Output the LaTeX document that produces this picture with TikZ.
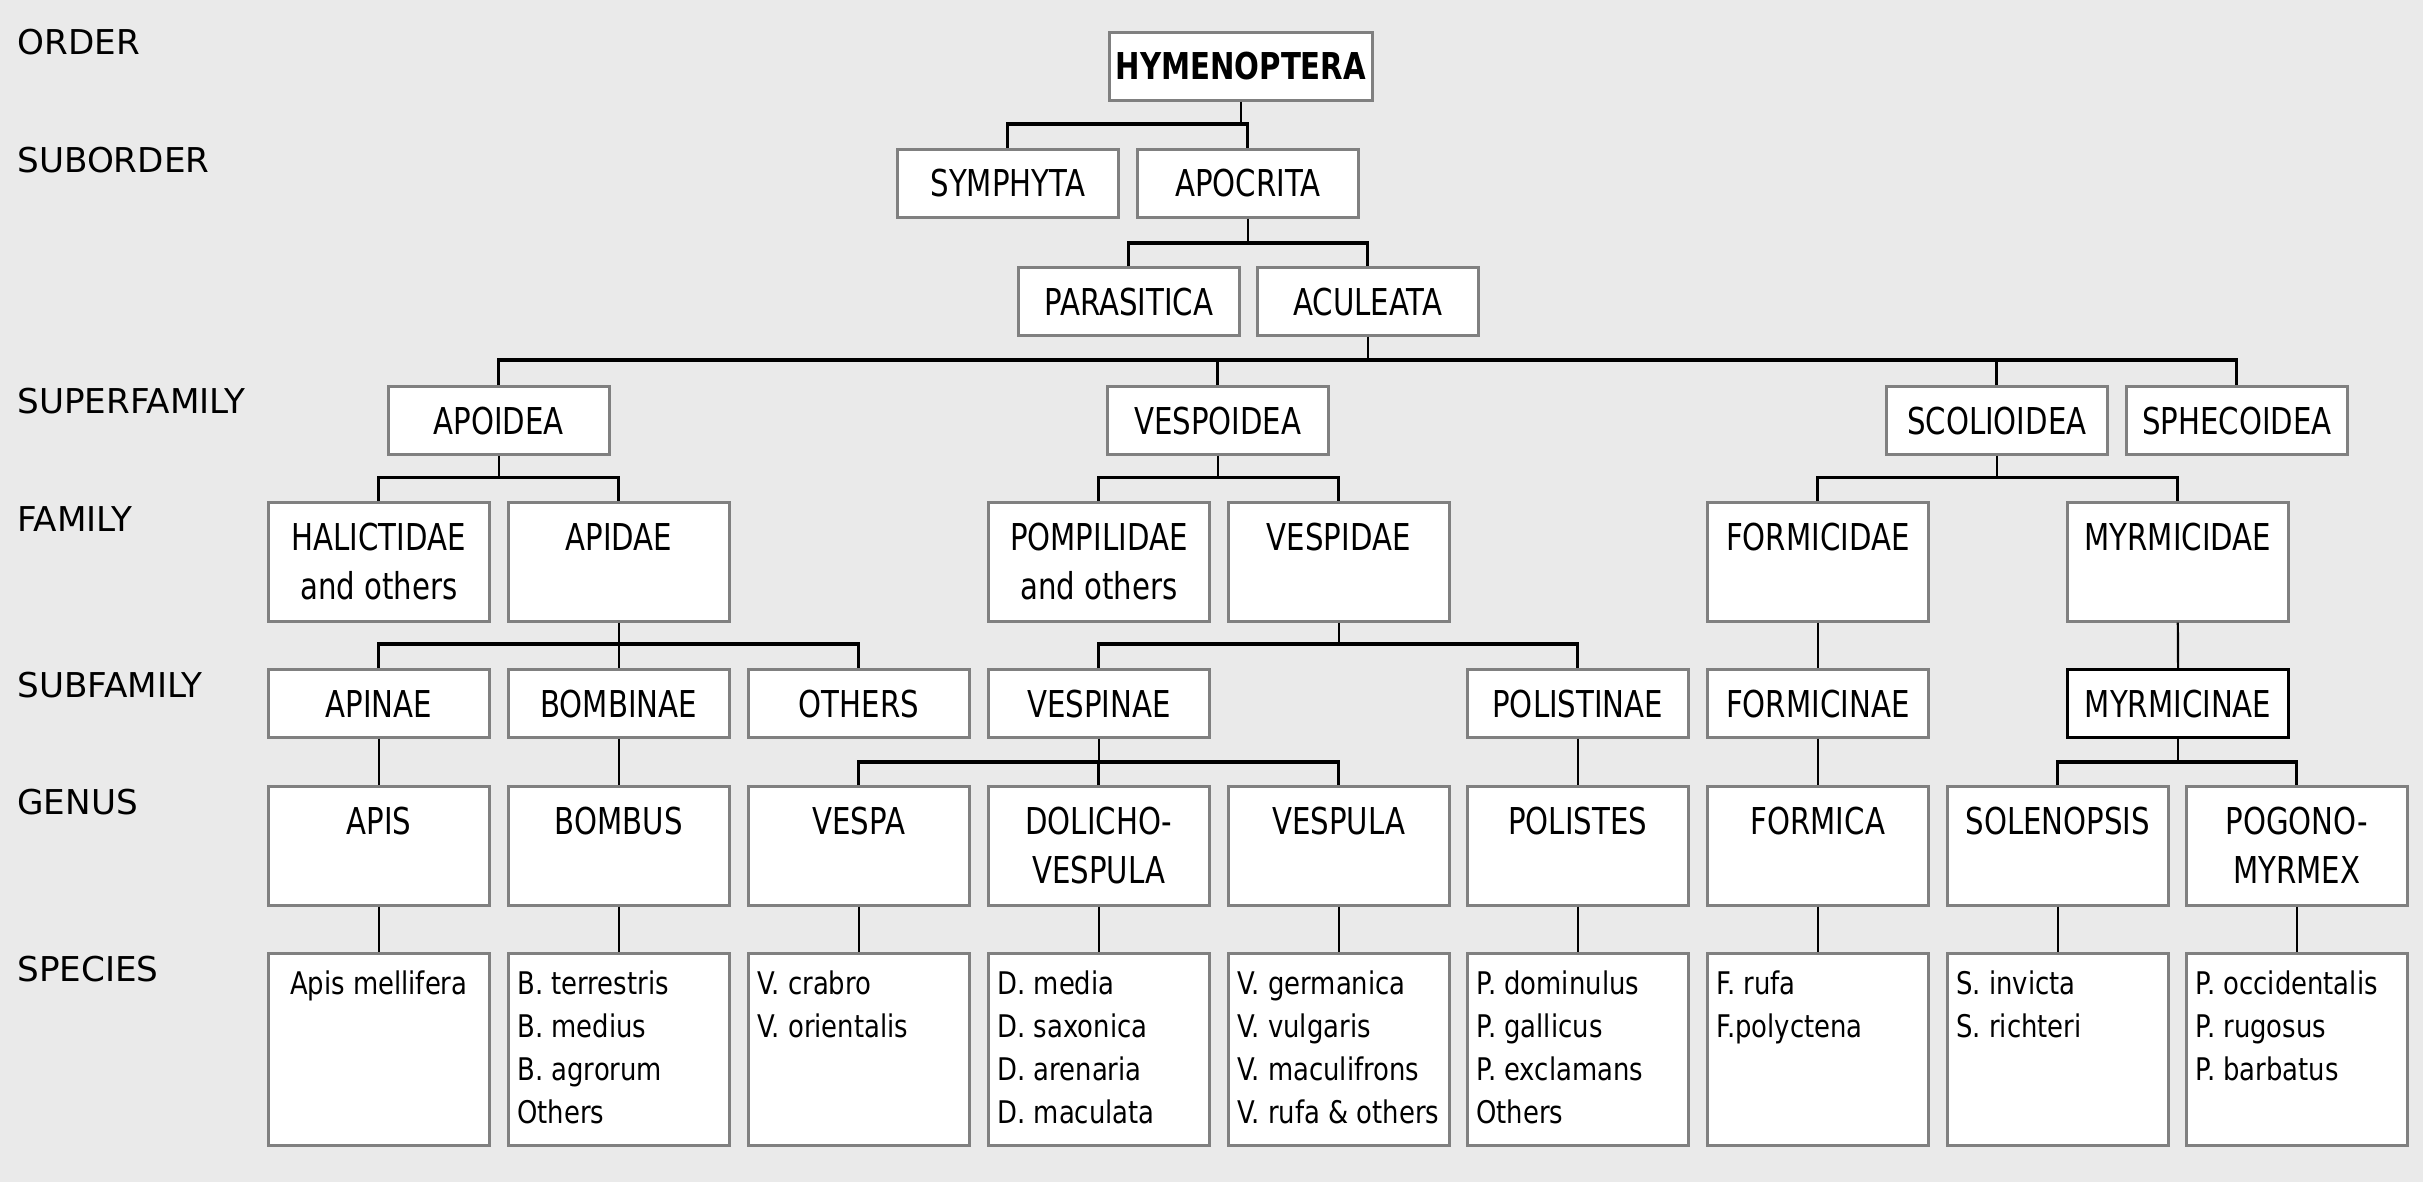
\documentclass[tikz,border=0pt]{standalone}
\usepackage{fontspec}
\setmainfont{DejaVu Sans}
\newfontfamily\condfont[FakeStretch=0.79]{DejaVu Sans}
\newfontfamily\spfont[FakeStretch=0.83]{DejaVu Sans}
\definecolor{bgc}{HTML}{EAEAEA}
\definecolor{bordergray}{HTML}{808080}
\begin{document}
\begin{tikzpicture}[x=0.5pt,y=-0.5pt,
  box/.style={draw=bordergray, line width=1.3pt, fill=white, anchor=north west, inner sep=0pt, minimum width=110.5pt},
  hA/.style={minimum height=34pt},
  hB/.style={minimum height=59.5pt},
  hC/.style={minimum height=96pt},
  txt/.style={font=\condfont\fontsize{18.5}{22}\selectfont, inner sep=0pt, anchor=base},
  sp/.style={font=\spfont\fontsize{15.6}{19}\selectfont, inner sep=0pt, anchor=base west},
  lvl/.style={font=\fontsize{17.1}{20}\selectfont, inner sep=0pt, anchor=base west},
  stem/.style={line width=1.1pt},
  bus/.style={line width=1.6pt}]
\fill[bgc] (0,0) rectangle (2423,1182);
\useasboundingbox (0,0) rectangle (2423,1182);

% level labels
\node[lvl] (l1) at (17,55) {ORDER};
\node[lvl] (l2) at (17,173) {SUBORDER};
\node[lvl] (l3) at (17,413) {SUPERFAMILY};
\node[lvl] (l4) at (17,531) {FAMILY};
\node[lvl] (l5) at (17,697) {SUBFAMILY};
\node[lvl] (l6) at (17,814) {GENUS};
\node[lvl] (l7) at (17,981) {SPECIES};

% bus levels
\coordinate (busA) at (0,124);
\coordinate (busB) at (0,243);
\coordinate (busC) at (0,360);
\coordinate (busD) at (0,477.5);
\coordinate (busE) at (0,644);
\coordinate (busF) at (0,762);

% boxes
\node[box,hA,minimum width=131.5pt] (hym) at (1108,31) {};
\node[box,hA] (sym) at (896,148) {};
\node[box,hA] (apo) at (1136,148) {};
\node[box,hA] (par) at (1017,266) {};
\node[box,hA] (acu) at (1256,266) {};
\node[box,hA] (apoi) at (387,385) {};
\node[box,hA] (vesp) at (1106,385) {};
\node[box,hA] (scol) at (1885,385) {};
\node[box,hA] (sphe) at (2125,385) {};
% family
\node[box,hB] (hal) at (267,501) {};
\node[box,hB] (apid) at (507,501) {};
\node[box,hB] (pomp) at (987,501) {};
\node[box,hB] (vespid) at (1227,501) {};
\node[box,hB] (formi) at (1706,501) {};
\node[box,hB] (myrm) at (2066,501) {};
% subfamily
\node[box,hA] (apin) at (267,668) {};
\node[box,hA] (bomb) at (507,668) {};
\node[box,hA] (oth) at (747,668) {};
\node[box,hA] (vespin) at (987,668) {};
\node[box,hA] (polist) at (1466,668) {};
\node[box,hA] (formin) at (1706,668) {};
\node[box,hA,draw=black,line width=1.6pt] (myrmin) at (2066,668) {};
% genus
\node[box,hB] (g1) at (267,785) {};
\node[box,hB] (g2) at (507,785) {};
\node[box,hB] (g3) at (747,785) {};
\node[box,hB] (g4) at (987,785) {};
\node[box,hB] (g5) at (1227,785) {};
\node[box,hB] (g6) at (1466,785) {};
\node[box,hB] (g7) at (1706,785) {};
\node[box,hB] (g8) at (1946,785) {};
\node[box,hB] (g9) at (2185,785) {};
% species
\node[box,hC] (s1) at (267,952) {};
\node[box,hC] (s2) at (507,952) {};
\node[box,hC] (s3) at (747,952) {};
\node[box,hC] (s4) at (987,952) {};
\node[box,hC] (s5) at (1227,952) {};
\node[box,hC] (s6) at (1466,952) {};
\node[box,hC] (s7) at (1706,952) {};
\node[box,hC] (s8) at (1946,952) {};
\node[box,hC] (s9) at (2185,952) {};

% box texts
\node[txt,font=\condfont\bfseries\fontsize{18.5}{22}\selectfont] (hym-t) at ([yshift=-24.5pt]hym.north) {HYMENOPTERA};
\node[txt] (sym-t) at ([yshift=-24.5pt]sym.north) {SYMPHYTA};
\node[txt] (apo-t) at ([yshift=-24.5pt]apo.north) {APOCRITA};
\node[txt] (par-t) at ([yshift=-24.5pt]par.north) {PARASITICA};
\node[txt] (acu-t) at ([yshift=-24.5pt]acu.north) {ACULEATA};
\node[txt] (apoi-t) at ([yshift=-24.5pt]apoi.north) {APOIDEA};
\node[txt] (vesp-t) at ([yshift=-24.5pt]vesp.north) {VESPOIDEA};
\node[txt] (scol-t) at ([yshift=-24.5pt]scol.north) {SCOLIOIDEA};
\node[txt] (sphe-t) at ([yshift=-24.5pt]sphe.north) {SPHECOIDEA};
\node[txt] (hal-t) at ([yshift=-24.5pt]hal.north) {HALICTIDAE};
\node[txt] (hal-t2) at ([yshift=-49pt]hal.north) {and others};
\node[txt] (apid-t) at ([yshift=-24.5pt]apid.north) {APIDAE};
\node[txt] (pomp-t) at ([yshift=-24.5pt]pomp.north) {POMPILIDAE};
\node[txt] (pomp-t2) at ([yshift=-49pt]pomp.north) {and others};
\node[txt] (vespid-t) at ([yshift=-24.5pt]vespid.north) {VESPIDAE};
\node[txt] (formi-t) at ([yshift=-24.5pt]formi.north) {FORMICIDAE};
\node[txt] (myrm-t) at ([yshift=-24.5pt]myrm.north) {MYRMICIDAE};
\node[txt] (apin-t) at ([yshift=-24.5pt]apin.north) {APINAE};
\node[txt] (bomb-t) at ([yshift=-24.5pt]bomb.north) {BOMBINAE};
\node[txt] (oth-t) at ([yshift=-24.5pt]oth.north) {OTHERS};
\node[txt] (vespin-t) at ([yshift=-24.5pt]vespin.north) {VESPINAE};
\node[txt] (polist-t) at ([yshift=-24.5pt]polist.north) {POLISTINAE};
\node[txt] (formin-t) at ([yshift=-24.5pt]formin.north) {FORMICINAE};
\node[txt] (myrmin-t) at ([yshift=-24.5pt]myrmin.north) {MYRMICINAE};
\node[txt] (g1-t) at ([yshift=-24.5pt]g1.north) {APIS};
\node[txt] (g2-t) at ([yshift=-24.5pt]g2.north) {BOMBUS};
\node[txt] (g3-t) at ([yshift=-24.5pt]g3.north) {VESPA};
\node[txt] (g4-t) at ([yshift=-24.5pt]g4.north) {DOLICHO-};
\node[txt] (g4-t2) at ([yshift=-49pt]g4.north) {VESPULA};
\node[txt] (g5-t) at ([yshift=-24.5pt]g5.north) {VESPULA};
\node[txt] (g6-t) at ([yshift=-24.5pt]g6.north) {POLISTES};
\node[txt] (g7-t) at ([yshift=-24.5pt]g7.north) {FORMICA};
\node[txt] (g8-t) at ([yshift=-24.5pt]g8.north) {SOLENOPSIS};
\node[txt] (g9-t) at ([yshift=-24.5pt]g9.north) {POGONO-};
\node[txt] (g9-t2) at ([yshift=-49pt]g9.north) {MYRMEX};

% species texts
\node[sp,anchor=base] (s1-1) at ([yshift=-21pt]s1.north) {Apis mellifera};
\foreach \t [count=\i] in {B. terrestris, B. medius, B. agrorum, Others}
  \node[sp] (s2-\i) at ([xshift=5pt,yshift={-21pt-(\i-1)*21.5pt}]s2.north west) {\t};
\foreach \t [count=\i] in {V. crabro, V. orientalis}
  \node[sp] (s3-\i) at ([xshift=5pt,yshift={-21pt-(\i-1)*21.5pt}]s3.north west) {\t};
\foreach \t [count=\i] in {D. media, D. saxonica, D. arenaria, D. maculata}
  \node[sp] (s4-\i) at ([xshift=5pt,yshift={-21pt-(\i-1)*21.5pt}]s4.north west) {\t};
\foreach \t [count=\i] in {V. germanica, V. vulgaris, V. maculifrons, V. rufa \& others}
  \node[sp] (s5-\i) at ([xshift=5pt,yshift={-21pt-(\i-1)*21.5pt}]s5.north west) {\t};
\foreach \t [count=\i] in {P. dominulus, P. gallicus, P. exclamans, Others}
  \node[sp] (s6-\i) at ([xshift=5pt,yshift={-21pt-(\i-1)*21.5pt}]s6.north west) {\t};
\foreach \t [count=\i] in {F. rufa, F.polyctena}
  \node[sp] (s7-\i) at ([xshift=5pt,yshift={-21pt-(\i-1)*21.5pt}]s7.north west) {\t};
\foreach \t [count=\i] in {S. invicta, S. richteri}
  \node[sp] (s8-\i) at ([xshift=5pt,yshift={-21pt-(\i-1)*21.5pt}]s8.north west) {\t};
\foreach \t [count=\i] in {P. occidentalis, P. rugosus, P. barbatus}
  \node[sp] (s9-\i) at ([xshift=5pt,yshift={-21pt-(\i-1)*21.5pt}]s9.north west) {\t};

% connectors
\draw[stem] (hym.south) -- (hym.south |- busA);
\draw[bus] (sym.north) |- (apo.north |- busA) -- (apo.north);

\draw[stem] (apo.south) -- (apo.south |- busB);
\draw[bus] (par.north) |- (acu.north |- busB) -- (acu.north);

\draw[stem] (acu.south) -- (acu.south |- busC);
\draw[bus] (apoi.north) |- (sphe.north |- busC) -- (sphe.north);
\draw[bus] (vesp.north) -- (vesp.north |- busC);
\draw[bus] (scol.north) -- (scol.north |- busC);

\draw[stem] (apoi.south) -- (apoi.south |- busD);
\draw[bus] (hal.north) |- (apid.north |- busD) -- (apid.north);
\draw[stem] (vesp.south) -- (vesp.south |- busD);
\draw[bus] (pomp.north) |- (vespid.north |- busD) -- (vespid.north);
\draw[stem] (scol.south) -- (scol.south |- busD);
\draw[bus] (formi.north) |- (myrm.north |- busD) -- (myrm.north);

\draw[stem] (apid.south) -- (bomb.north);
\draw[bus] (apin.north) |- (oth.north |- busE) -- (oth.north);
\draw[stem] (vespid.south) -- (vespid.south |- busE);
\draw[bus] (vespin.north) |- (polist.north |- busE) -- (polist.north);
\draw[stem] (formi.south) -- (formin.north);
\draw[stem] (myrm.south) -- (myrmin.north);

\draw[stem] (apin.south) -- (g1.north);
\draw[stem] (bomb.south) -- (g2.north);
\draw[stem] (vespin.south) -- (vespin.south |- busF);
\draw[bus] (g3.north) |- (g5.north |- busF) -- (g5.north);
\draw[bus] (g4.north) -- (g4.north |- busF);
\draw[stem] (polist.south) -- (g6.north);
\draw[stem] (formin.south) -- (g7.north);
\draw[stem] (myrmin.south) -- (myrmin.south |- busF);
\draw[bus] (g8.north) |- (g9.north |- busF) -- (g9.north);

\foreach \k in {1,...,9} \draw[stem] (g\k.south) -- (s\k.north);
\end{tikzpicture}
\end{document}
